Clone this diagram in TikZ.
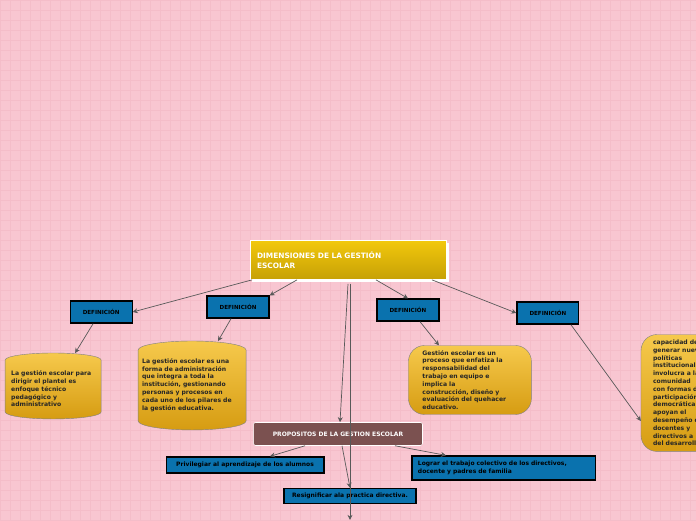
\documentclass[tikz,border=0pt]{standalone}
\usepackage{fontspec}
\setmainfont{DejaVu Sans}
\usetikzlibrary{arrows.meta}
\definecolor{bgpink}{HTML}{F8C6D1}
\definecolor{gridc}{HTML}{F4BDC9}
\definecolor{defblue}{HTML}{0A72AE}
\definecolor{goldT}{HTML}{F6C94C}
\definecolor{goldB}{HTML}{D69C12}
\definecolor{titT}{HTML}{F2C80C}
\definecolor{titB}{HTML}{C6A006}
\definecolor{brownp}{HTML}{7B5150}
\tikzset{
 defbox/.style={draw=black,line width=1.2pt,fill=defblue,minimum width=62pt,minimum height=22pt,font=\bfseries\fontsize{5.6}{6.5}\selectfont},
 bluebox/.style={draw=black,line width=1.2pt,fill=defblue,font=\bfseries\fontsize{6}{7.2}\selectfont,align=left,anchor=center},
 goldtext/.style={font=\bfseries\fontsize{6.1}{7.8}\selectfont,align=left,text=black!85},
 goldround/.style={draw=black!50,rounded corners=16pt,top color=goldT,bottom color=goldB,goldtext},
 conn/.style={draw=black!65,line width=0.7pt,-{Stealth[length=5pt,width=5pt]}},
}
\begin{document}
\begin{tikzpicture}[x=1pt,y=-1pt]
\fill[bgpink] (0,0) rectangle (696,520);
\foreach \i in {0,10,...,690} {\draw[gridc,line width=0.4pt] (\i,0) -- (\i,520);}
\foreach \j in {0,10,...,520} {\draw[gridc,line width=0.4pt] (0,\j) -- (696,\j);}
\useasboundingbox (0,0) rectangle (696,520);
% title
\fill[white] (252,243) rectangle (449,282);
\node[draw=white,line width=0.6pt,top color=titT,bottom color=titB,minimum width=196pt,minimum height=39pt,text width=182pt,align=left,text=white,font=\bfseries\fontsize{7.4}{9.5}\selectfont] (title) at (348,260) {DIMENSIONES DE LA GESTIÓN\\ESCOLAR};
% definitions
\node[defbox] (d1) at (101,312) {DEFINICIÓN};
\node[defbox] (d2) at (238,307) {DEFINICIÓN};
\node[defbox] (d3) at (408,310) {DEFINICIÓN};
\node[defbox] (d4) at (548,313) {DEFINICIÓN};
% cylinders
\draw[draw=black!50,top color=goldT,bottom color=goldB] (5,360) arc[start angle=180,end angle=360,x radius=48,y radius=7] -- (101,412) arc[start angle=0,end angle=180,x radius=48,y radius=7] -- cycle;
\draw[draw=black!50,top color=goldT,bottom color=goldB] (138,350) arc[start angle=180,end angle=360,x radius=54,y radius=9] -- (246,421) arc[start angle=0,end angle=180,x radius=54,y radius=9] -- cycle;
\node[goldtext,text width=86pt,align=left] (c1) at (54,389) {La gestión escolar para\\dirigir el plantel es\\enfoque técnico\\pedagógico y\\administrativo};
\coordinate (c1t) at (75,353);
\node[goldtext,text width=102pt] (c2) at (193,385) {La gestión escolar es una\\forma de administración\\que integra a toda la\\institución, gestionando\\personas y procesos en\\cada uno de los pilares de\\la gestión educativa.};
\coordinate (c2t) at (218,341);
\node[goldround,minimum width=123pt,minimum height=69pt,text width=95pt] (r3) at (470,380) {Gestión escolar es un\\proceso que enfatiza la\\responsabilidad del\\trabajo en equipo e\\implica la\\construcción, diseño y\\evaluación del quehacer\\educativo.};
\node[goldround,minimum height=117pt,minimum width=100pt,text width=76pt,anchor=west] (r4) at (641,393) {capacidad de\\generar nuevas\\políticas\\institucionales,\\involucra a la\\comunidad\\con formas de\\participación\\democrática\\apoyan el\\desempeño de\\docentes y\\directivos a\\del desarrollo};
% propositos
\node[draw=white,line width=0.6pt,fill=brownp,rounded corners=2pt,minimum width=169pt,minimum height=23pt,text=white,font=\bfseries\fontsize{6}{7}\selectfont] (prop) at (338,434) {PROPOSITOS DE LA GESTION ESCOLAR};
\node[bluebox,minimum width=158pt,minimum height=16pt] (p1) at (245,465) {Privilegiar al aprendizaje de los alumnos};
\node[bluebox,minimum width=184pt,minimum height=24pt,text width=172pt] (p2) at (504,468) {Lograr el trabajo colectivo de los directivos,\\docente y padres de familia};
\node[bluebox,minimum width=132pt,minimum height=15pt] (p3) at (350,496) {Resignificar ala practica directiva.};
\coordinate (bot) at (350,520);
% connectors
\draw[conn] ([xshift=-96pt]title.south) -- (d1.east);
\draw[conn] ([xshift=-51pt]title.south) -- (d2.north east);
\draw[conn] ([xshift=28pt]title.south) -- (d3.north);
\draw[conn] ([xshift=84pt]title.south) -- (d4.west);
\draw[conn] ([xshift=-8pt]d1.south) -- (c1t);
\draw[conn] ([xshift=-7pt]d2.south) -- (c2t);
\draw[conn] ([xshift=12pt]d3.south) -- ([xshift=-31pt]r3.north);
\draw[conn] ([xshift=23pt]d4.south) -- ([yshift=-28pt]r4.west);
\draw[conn] ([yshift=-4pt]title.south) -- ([xshift=2pt]prop.north);
\draw[conn] ([xshift=2pt,yshift=-4pt]title.south) -- (bot);
\draw[conn] ([xshift=-33pt]prop.south) -- ([xshift=25pt]p1.north);
\draw[conn] ([xshift=57pt]prop.south) -- ([xshift=-58pt]p2.north);
\draw[conn] ([xshift=4pt]prop.south) -- (p3.north);
\end{tikzpicture}
\end{document}
